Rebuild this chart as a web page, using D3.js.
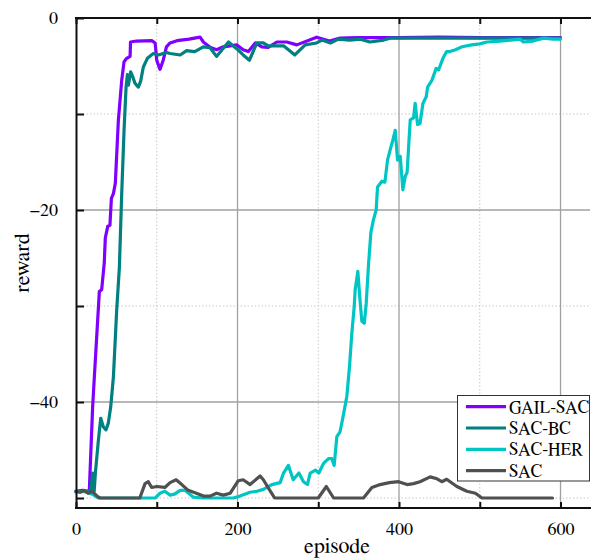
<!DOCTYPE html>
<html>
<head>
<meta charset="utf-8">
<script src="https://cdn.jsdelivr.net/npm/d3@7/dist/d3.min.js"></script>
<style>
  html, body { margin: 0; padding: 0; background: #fff; }
  svg { display: block; }
  svg text { font-family: "FreeSerif", "Liberation Serif", "Times New Roman", Times; fill: #000; }
</style>
</head>
<body>
<svg id="chart" width="591" height="560"></svg>
<script>
// ---- data ----
const seriesNames = ["GAIL-SAC", "SAC-BC", "SAC-HER", "SAC"];
const seriesColors = ["#7f00ff", "#008080", "#00c5c5", "#505050"];

const gailSac = [[0,-49.3],[8,-49.2],[14,-49.3],[16.5,-49.2],[20.6,-40.5],[22.3,-38],[28.9,-28.5],[31.8,-28.3],[35,-25.5],[36.3,-22.9],[39.3,-21.7],[42,-21.6],[43.8,-18.8],[46.3,-18.3],[48.7,-17.2],[52.5,-10.6],[56.6,-6.5],[59.5,-4.55],[62.8,-4.2],[67,-4.0],[67.5,-2.5],[75,-2.4],[93.8,-2.36],[98,-2.6],[100,-4.4],[104,-5.35],[108,-4.4],[112,-3.0],[116.5,-2.6],[125,-2.36],[140,-2.2],[153.7,-2.0],[157.7,-2.5],[166,-3.05],[174,-3.3],[182.5,-3.0],[199,-2.8],[207,-3.3],[213.5,-3.5],[222,-2.6],[230,-3.0],[238,-3.05],[248.7,-2.5],[261,-2.5],[273.5,-2.8],[298,-2.0],[314,-2.4],[327,-2.1],[350,-2.05],[400,-2.05],[450,-2.0],[500,-2.05],[550,-2.05],[600,-2.05]];

const sacBc = [[0,-49.3],[18,-49.3],[20.7,-47.4],[22.5,-49.3],[24,-47.4],[27.7,-44],[30.6,-41.7],[33.9,-42.6],[37.2,-42.9],[40,-42.2],[43,-40.5],[46.3,-37.4],[50.4,-30.4],[53.7,-26],[56.6,-18.3],[59.5,-11.7],[62,-7.2],[63.6,-5.9],[64.9,-7.0],[67.7,-5.6],[70.2,-6.1],[73,-6.8],[77.2,-7.2],[80,-6.6],[83.4,-5.1],[88.4,-4.2],[95.8,-3.7],[102,-3.85],[112,-3.6],[116.5,-3.7],[129,-3.85],[137,-3.4],[147,-3.5],[157.7,-3.0],[166,-3.1],[174,-4.0],[188.8,-2.5],[199,-3.2],[207,-3.85],[214.7,-4.4],[224,-2.6],[232,-2.6],[238,-2.9],[257,-2.9],[271,-3.85],[283.8,-2.8],[298,-2.6],[304.5,-2.3],[315,-2.6],[325,-2.2],[339,-2.3],[352,-2.2],[364,-2.5],[381,-2.3],[389,-2.1],[450,-2.1],[500,-2.1],[550,-2.1],[600,-2.1]];

const sacHer = [[0,-49.4],[10,-49.3],[20,-49.6],[28,-50],[79,-50],[98,-50],[104,-49.5],[110,-49.3],[116.5,-49.7],[122,-49.6],[129,-49.2],[135,-49.2],[145,-49.9],[157,-50],[195,-50],[203,-49.8],[215.6,-49.4],[224,-49.3],[232,-49.1],[242.5,-48.6],[252.8,-48.4],[257,-47.4],[263,-46.6],[269,-48.1],[276,-47.4],[281.7,-48.3],[286.6,-48.6],[290,-47.4],[296.6,-47.1],[300.7,-47.4],[306.5,-46.4],[312.7,-45.9],[316.8,-45.9],[319.7,-46.6],[323,-43.6],[327,-43.1],[331,-41.4],[335.4,-39.4],[338.7,-36.3],[341.6,-32.8],[344.5,-30.1],[345.7,-28.3],[349,-26.4],[352,-29.7],[354,-31.6],[357,-31.8],[359.4,-29.7],[362.3,-25.6],[365.2,-22.3],[368.4,-21.0],[371.7,-20],[373.4,-17.6],[378.8,-17.0],[382.5,-17.1],[385.8,-14.8],[389,-13.75],[392.4,-12.7],[395.3,-11.7],[398.2,-14.8],[401.5,-14.4],[404.8,-17.9],[407.7,-16.5],[410,-16.1],[413.9,-10.6],[418,-10.4],[420,-8.9],[423,-11.1],[426,-11],[429.6,-8.9],[433.7,-8.2],[435.4,-7.2],[440.7,-6.5],[446,-5.25],[449,-5.4],[454.4,-4.2],[459,-3.5],[463,-3.5],[470,-3.3],[478,-3.0],[490,-2.8],[500,-2.7],[509,-2.5],[525,-2.4],[550,-2.2],[554,-2.5],[566,-2.4],[579,-2.1],[591,-2.2],[600,-2.2]];

const sac = [[0,-49.3],[5,-49.4],[10,-49.2],[15,-49.5],[20,-49.3],[27.6,-49.9],[30,-50],[79,-50],[85.5,-48.5],[89.6,-48.3],[93.7,-48.9],[100,-48.8],[110,-48.9],[116.5,-48.4],[124,-48.1],[131,-48.6],[139,-49.2],[149,-49.5],[157.8,-49.8],[166,-49.8],[174,-49.5],[182.5,-49.7],[191,-49.5],[201,-48.2],[207,-48.1],[215.6,-48.6],[228,-47.7],[232,-48.1],[240,-49.2],[246,-50],[300,-50],[310,-48.8],[319,-50],[356,-50],[366.4,-48.9],[376.7,-48.6],[388,-48.4],[399.4,-48.3],[410,-48.6],[418,-48.5],[426,-48.3],[438.6,-47.8],[447,-48.0],[453,-48.3],[459,-48.05],[471.6,-48.8],[484,-49.3],[494.6,-49.5],[502.7,-50],[590,-50]];

const allSeries = [gailSac, sacBc, sacHer, sac];

const xMajorTicks = [0, 200, 400, 600];
const xMinorTicks = [100, 300, 500];
const yMajorTicks = [0, -20, -40];
const yMinorTicks = [-10, -30, -50];
const xLabel = "episode";
const yLabel = "reward";

// ---- layout ----
const FONT = '"FreeSerif", "Liberation Serif", "Times New Roman"';
const L = 76, R = 590, T = 18, B = 508;
const svg = d3.select("#chart");
const x = d3.scaleLinear().domain([0, 636.5]).range([L, R]);
const y = d3.scaleLinear().domain([-51.04, 0]).range([B, T]);

// grid
const grid = svg.append("g");
xMinorTicks.forEach(v => grid.append("line").attr("x1", x(v)).attr("x2", x(v)).attr("y1", T).attr("y2", B)
  .attr("stroke", "#c8c8c8").attr("stroke-width", 1).attr("stroke-dasharray", "1.5,2"));
yMinorTicks.forEach(v => grid.append("line").attr("x1", L).attr("x2", R).attr("y1", y(v)).attr("y2", y(v))
  .attr("stroke", "#c8c8c8").attr("stroke-width", 1).attr("stroke-dasharray", "1.5,2"));
xMajorTicks.filter(v => v > 0).forEach(v => grid.append("line").attr("x1", x(v)).attr("x2", x(v)).attr("y1", T).attr("y2", B)
  .attr("stroke", "#a0a0a0").attr("stroke-width", 1.3));
yMajorTicks.filter(v => v < 0).forEach(v => grid.append("line").attr("x1", L).attr("x2", R).attr("y1", y(v)).attr("y2", y(v))
  .attr("stroke", "#a0a0a0").attr("stroke-width", 1.3));

// series
const line = d3.line().x(d => x(d[0])).y(d => y(d[1])).curve(d3.curveLinear);
allSeries.forEach((s, i) => {
  svg.append("path").datum(s).attr("d", line).attr("fill", "none")
    .attr("stroke", seriesColors[i]).attr("stroke-width", 3.2)
    .attr("stroke-linejoin", "round").attr("stroke-linecap", "round");
});

// axes (ticks inside)
const allX = xMajorTicks.concat(xMinorTicks).sort((a, b) => a - b);
const allY = yMajorTicks.concat(yMinorTicks);
const xAxisB = d3.axisBottom(x).tickValues(allX).tickSizeInner(-6).tickSizeOuter(0)
  .tickFormat(d => xMajorTicks.includes(d) ? d3.format("d")(d) : "").tickPadding(14);
const gB = svg.append("g").attr("transform", `translate(0,${B})`).call(xAxisB);
const xAxisT = d3.axisTop(x).tickValues(allX).tickSizeInner(-6).tickSizeOuter(0).tickFormat("");
const gT = svg.append("g").attr("transform", `translate(0,${T})`).call(xAxisT);
const yAxisL = d3.axisLeft(y).tickValues(allY).tickSizeInner(-8).tickSizeOuter(0)
  .tickFormat(d => yMajorTicks.includes(d) ? (d < 0 ? "\u2212" + Math.abs(d) : String(d)) : "").tickPadding(18);
const gL = svg.append("g").attr("transform", `translate(${L},0)`).call(yAxisL);

[gB, gT, gL].forEach(g => {
  g.attr("font-family", FONT);
  g.select(".domain").attr("stroke", "#111").attr("stroke-width", 2);
  g.selectAll(".tick line").attr("stroke", "#111").attr("stroke-width", 2);
  g.selectAll(".tick text").style("font-family", FONT).style("font-size", "18px").attr("fill", "#000");
});
gB.select(".domain").attr("d", `M${L - 1},0H${R + 1}`);
gT.select(".domain").attr("d", `M${L - 1},0H${R + 1}`);

// axis labels
svg.append("text").attr("x", (L + R) / 2 + 4).attr("y", 553).attr("text-anchor", "middle")
  .style("font-family", FONT).style("font-size", "22px").text(xLabel);
svg.append("text").attr("transform", `translate(29,263) rotate(-90)`).attr("text-anchor", "middle")
  .style("font-family", FONT).style("font-size", "22px").text(yLabel);

// legend
const lg = svg.append("g");
lg.append("rect").attr("x", 457.5).attr("y", 395.5).attr("width", 132).attr("height", 85.5)
  .attr("fill", "#fff").attr("stroke", "#333").attr("stroke-width", 1);
seriesNames.forEach((n, i) => {
  const cy = 406.7 + i * 21.3;
  lg.append("line").attr("x1", 466).attr("x2", 506).attr("y1", cy).attr("y2", cy)
    .attr("stroke", seriesColors[i]).attr("stroke-width", 3.2);
  lg.append("text").attr("x", 509).attr("y", cy + 6)
    .style("font-family", FONT).style("font-size", "17.5px").text(n);
});
</script>
</body>
</html>
